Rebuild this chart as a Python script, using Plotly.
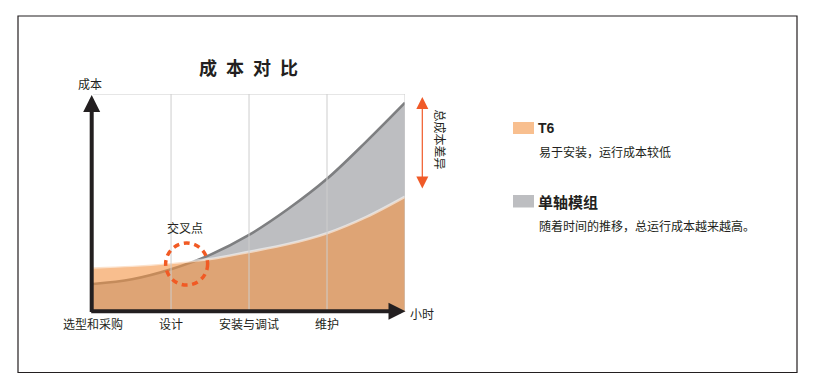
import plotly.graph_objects as go

W, H = 826, 391
FONT = "Noto Sans CJK SC"
DARK = "#231F20"

# ---- data ----
stages = ["选型和采购", "设计", "安装与调试", "维护"]
stage_pos = [0, 1, 2, 3]
x_vals = [0, 0.5, 1, 1.5, 2, 2.5, 3, 3.5, 4]
t6_cost = [20.3, 21.0, 22.3, 24.1, 27.4, 31.0, 36.0, 43.4, 52.8]
module_cost = [12.6, 14.8, 19.4, 26.0, 35.2, 47.1, 61.0, 78.0, 96.0]
cross_x, cross_y = 1.2, 21.8

series_names = ["T6", "单轴模组"]
series_desc = ["易于安装，运行成本较低", "随着时间的推移，总运行成本越来越高。"]
swatch_colors = ["#F8BF8F", "#BDBEC1"]


def px(x):
    return x / W


def py(y):
    return 1 - y / H


fig = go.Figure()

# single-axis module: gray area with dark gray edge
fig.add_trace(go.Scatter(
    x=x_vals, y=module_cost, mode="lines", fill="tozeroy",
    fillcolor="#BDBEC1", line=dict(color="#7E7F81", width=2.6, shape="spline"),
    hoverinfo="skip", showlegend=False))
# T6: semi-transparent orange area with light edge
fig.add_trace(go.Scatter(
    x=x_vals, y=t6_cost, mode="lines", fill="tozeroy",
    fillcolor="rgba(243,147,67,0.6)",
    line=dict(color="rgba(255,255,255,0.55)", width=2.6, shape="spline"),
    hoverinfo="skip", showlegend=False))

shapes = []
# vertical grid lines (above the areas) and top frame line
for gx in stage_pos[1:] + [4]:
    shapes.append(dict(type="line", xref="x", yref="y", x0=gx, x1=gx, y0=0, y1=100,
                       line=dict(color="#CDCDCD", width=1), layer="above"))
shapes.append(dict(type="line", xref="x", yref="y", x0=0, x1=4, y0=100, y1=100,
                   line=dict(color="#CDCDCD", width=1), layer="above"))
# dashed crossing circle
shapes.append(dict(type="circle", xref="x", yref="y", xsizemode="pixel", ysizemode="pixel",
                   xanchor=cross_x, yanchor=cross_y, x0=-21, x1=21, y0=-21, y1=21,
                   line=dict(color="#F15A24", width=3.5, dash="6px,4.6px"), layer="above"))
# outer border
shapes.append(dict(type="rect", xref="paper", yref="paper",
                   x0=px(18), x1=px(797), y0=py(372.5), y1=py(16),
                   line=dict(color=DARK, width=1.2)))
# legend swatches
shapes.append(dict(type="rect", xref="paper", yref="paper", x0=px(513), x1=px(534),
                   y0=py(134), y1=py(122), fillcolor=swatch_colors[0], line=dict(width=0)))
shapes.append(dict(type="rect", xref="paper", yref="paper", x0=px(513), x1=px(534),
                   y0=py(207.5), y1=py(195), fillcolor=swatch_colors[1], line=dict(width=0)))


def text(x, y, s, size=12, xanchor="center", **kw):
    f = dict(size=size, color=DARK, family=kw.pop("family", FONT))
    if kw.pop("bold", False):
        f["weight"] = "bold"
    return dict(xref="paper", yref="paper", x=px(x), y=py(y), text=s, showarrow=False,
                xanchor=xanchor, yanchor="middle", font=f, **kw)


ann = []
# axes arrows
ann.append(dict(xref="paper", yref="paper", axref="pixel", ayref="pixel",
                x=px(91.7), y=py(95), ax=0, ay=218.5, text="",
                showarrow=True, arrowhead=2, arrowsize=0.85, arrowwidth=4, arrowcolor=DARK))
ann.append(dict(xref="paper", yref="paper", axref="pixel", ayref="pixel",
                x=px(405.5), y=py(311.2), ax=-315.8, ay=0, text="",
                showarrow=True, arrowhead=2, arrowsize=0.85, arrowwidth=4, arrowcolor=DARK))
# total cost difference arrow
ann.append(dict(xref="paper", yref="paper", axref="pixel", ayref="pixel",
                x=px(422.3), y=py(97), ax=0, ay=93, text="",
                showarrow=True, arrowside="end+start", arrowhead=2, startarrowhead=2,
                arrowsize=2, startarrowsize=2, arrowwidth=1.2, arrowcolor="#F05A28"))
ann.append(text(439.5, 140, "总成本差异", textangle=90))
# title and axis texts
ann.append(text(248.5, 67, "成\u2002本\u2002对\u2002比", size=18, bold=True))
ann.append(text(90, 83.5, "成本"))
ann.append(text(422.5, 313, "小时"))
ann.append(text(185, 227, "交叉点"))
# legend texts
ann.append(text(536, 128, series_names[0], size=14, xanchor="left",
                family="Liberation Sans", bold=True))
ann.append(text(536.5, 151.5, series_desc[0], xanchor="left"))
ann.append(text(536, 201, series_names[1], size=15, xanchor="left", bold=True))
ann.append(text(536.5, 225, series_desc[1], xanchor="left"))

fig.update_layout(
    width=W, height=H, margin=dict(l=0, r=0, t=0, b=0, autoexpand=False),
    paper_bgcolor="white", plot_bgcolor="white",
    showlegend=False, shapes=shapes, annotations=ann,
    xaxis=dict(domain=[px(91.5), px(405)], range=[-0.02, 4.0], showgrid=False,
               zeroline=False, showline=False, ticks="", tickvals=stage_pos,
               ticktext=stages, tickfont=dict(size=12, color=DARK, family=FONT),
               ticklabelstandoff=3, automargin=False, fixedrange=True),
    yaxis=dict(domain=[py(313), py(94)], range=[-0.7, 100], showgrid=False,
               zeroline=False, showline=False, showticklabels=False, ticks="",
               automargin=False, fixedrange=True),
)

fig.write_html("out.html", config={"displayModeBar": False},
               post_script="document.body.style.margin='0';")
